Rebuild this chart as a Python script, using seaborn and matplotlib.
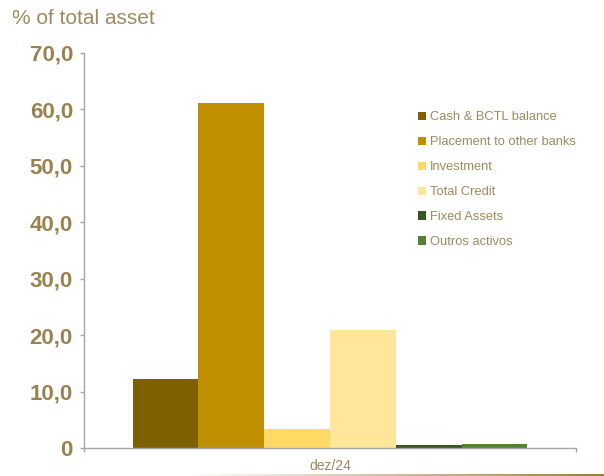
import numpy as np
import pandas as pd
import matplotlib
matplotlib.use("Agg")
import matplotlib.pyplot as plt
import seaborn as sns

# Asset structure, % of total assets
periods = ["dez/24"]
categories = ["Cash & BCTL balance", "Placement to other banks", "Investment",
              "Total Credit", "Fixed Assets", "Outros activos"]
values = [12.2, 61.2, 3.4, 20.9, 0.5, 0.7]
colors = ["#7f6000", "#bf8f00", "#ffd966", "#ffe699", "#375623", "#548235"]
y_ticks = [0, 10, 20, 30, 40, 50, 60, 70]

df = pd.DataFrame({"period": periods * len(categories),
                   "category": categories,
                   "value": values})

sns.set_theme(style="white")
plt.rcParams["font.family"] = ["Liberation Sans", "DejaVu Sans"]

gold = "#9a8250"
label_col = "#9c8b5e"
axis_col = "#a6a6a6"

fig = plt.figure(figsize=(6.04, 4.76), dpi=100)
ax = fig.add_axes([84 / 604, 1 - 448 / 476, (576 - 84) / 604, (448 - 53) / 476])

sns.barplot(data=df, x="period", y="value", hue="category",
            hue_order=categories, palette=colors, width=0.802,
            saturation=1, linewidth=0, ax=ax, legend=True)

ax.set_xlim(-0.5, 0.5)
ax.set_ylim(0, 70)
ax.set_yticks(y_ticks)
ax.set_yticklabels(["0" if v == 0 else f"{v:.1f}".replace(".", ",") for v in y_ticks],
                   fontsize=16, fontweight="bold", color=gold)
ax.tick_params(axis="y", length=3, width=1, color=axis_col, pad=5, left=True)
ax.tick_params(axis="x", which="major", length=0, pad=8, labelsize=10, labelcolor=label_col)
ax.set_xticks([-0.5, 0.5], minor=True)
ax.tick_params(axis="x", which="minor", length=3, width=1, color=axis_col, bottom=True)
ax.set_xlabel("")
ax.set_ylabel("")
for side in ("top", "right"):
    ax.spines[side].set_visible(False)
for side in ("left", "bottom"):
    ax.spines[side].set_color(axis_col)
    ax.spines[side].set_linewidth(1)

leg = ax.legend(loc="upper left", bbox_to_anchor=(412 / 604, 1 - 105 / 476),
                bbox_transform=fig.transFigure, frameon=False,
                fontsize=9.3, handlelength=0.6, handleheight=0.6,
                handletextpad=0.3, labelspacing=1.0, borderpad=0)
for t in leg.get_texts():
    t.set_color(label_col)

fig.text(12 / 604, 1 - 18 / 476, "% of total asset", fontsize=15,
         color=label_col, va="center", ha="left")

# fading rule along the bottom edge
rule = fig.add_axes([190 / 604, 0, (604 - 190) / 604, 2 / 476])
grad = np.linspace(0, 1, 256)[None, :]
cmap = matplotlib.colors.LinearSegmentedColormap.from_list("rule", ["#ffffff", "#a07c3c"])
rule.imshow(grad, aspect="auto", cmap=cmap)
rule.set_axis_off()

fig.savefig("out.png", dpi=100)
